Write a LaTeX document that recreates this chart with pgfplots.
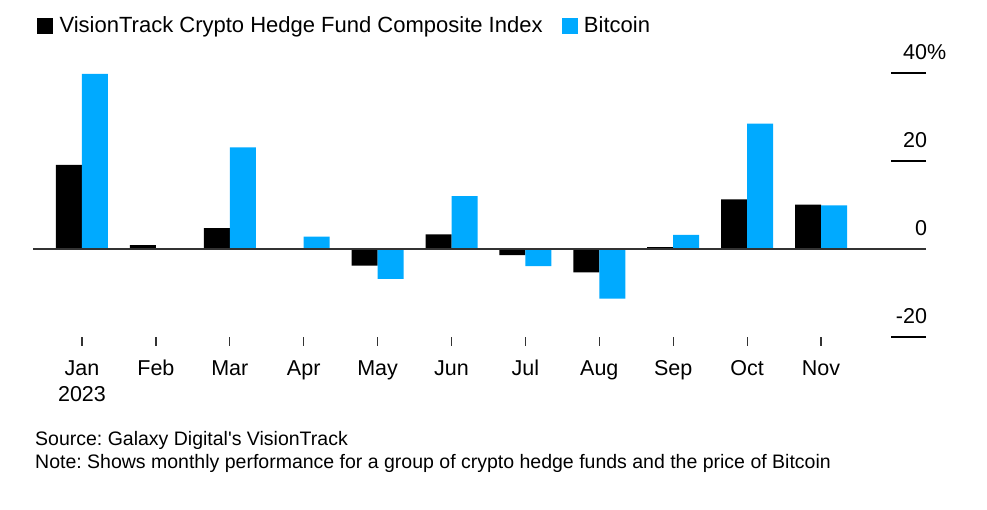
\documentclass[border=0pt]{standalone}
\usepackage{pgfplots}
\pgfplotsset{compat=1.18}
\usepackage{fontspec}
\setmainfont{Liberation Sans}
\frenchspacing
\definecolor{btc}{HTML}{00AAFF}
\definecolor{zl}{HTML}{333333}
\begin{document}
\begin{tikzpicture}[x=1bp,y=1bp]
\path[use as bounding box, fill=white] (0,0) rectangle (987,510);
\begin{axis}[
  at={(33bp,173bp)}, anchor=south west,
  scale only axis, width=858bp, height=264bp,
  xmin=-0.663, xmax=10.947, ymin=-20, ymax=40,
  clip=false,
  axis x line*=bottom, axis y line*=right,
  axis line style={draw=none},
  tick align=outside,
  xtick={0,...,10},
  xticklabels={\strut Jan\\2023,\strut Feb,\strut Mar,\strut Apr,\strut May,\strut Jun,\strut Jul,\strut Aug,\strut Sep,\strut Oct,\strut Nov},
  xticklabel style={align=center, font=\fontsize{21.5bp}{26bp}\selectfont, anchor=north, inner sep=0pt, yshift=-16bp},
  ytick={-20,0,20,40},
  yticklabels={-20,0,20,40\rlap{\%}},
  yticklabel style={anchor=base east, inner sep=0pt, font=\fontsize{21.5bp}{24bp}\selectfont, xshift=32bp, yshift=13.5bp},
  x tick style={black!80, line width=1.2bp, /pgfplots/major tick length=9bp},
  y tick style={black, line width=1.2bp, /pgfplots/major tick length=35bp},
  ybar=0pt, bar width=26bp,
  legend style={at={(axis description cs:0,1)}, anchor=west, xshift=4bp, yshift=47.5bp,
    draw=none, fill=none, inner sep=0pt, font=\fontsize{22bp}{26bp}\selectfont,
    /tikz/every odd column/.append style={column sep=5bp},
    /tikz/every even column/.append style={column sep=17bp}},
  legend columns=-1,
]
\addplot[fill=black, draw=none, bar shift=-13bp, forget plot] coordinates {
(0,19.1) (1,0.9) (2,4.75) (3,0.15) (4,-3.8) (5,3.3) (6,-1.4) (7,-5.3) (8,0.4) (9,11.3) (10,10.1)};
\addplot[fill=btc, draw=none, bar shift=13bp, forget plot] coordinates {
(0,39.8) (1,-0.2) (2,23.1) (3,2.8) (4,-6.8) (5,12.0) (6,-3.9) (7,-11.3) (8,3.2) (9,28.5) (10,9.9)};
\addlegendimage{legend image code/.code={\fill[black] (0bp,-7.5bp) rectangle (15bp,7.5bp);}}
\addlegendentry{VisionTrack Crypto Hedge Fund Composite Index}
\addlegendimage{legend image code/.code={\fill[btc] (0bp,-7.5bp) rectangle (15bp,7.5bp);}}
\addlegendentry{Bitcoin}
\draw[zl, line width=1.5bp] (axis cs:-0.663,0) -- (axis cs:11.42,0);
\end{axis}
\node[anchor=base west, inner sep=0pt, font=\fontsize{19.5bp}{22bp}\selectfont] at (35,64) {Source: Galaxy Digital\textquotesingle s VisionTrack};
\node[anchor=base west, inner sep=0pt, font=\fontsize{19.5bp}{22bp}\selectfont] at (35,41.5) {Note: Shows monthly performance for a group of crypto hedge funds and the price of Bitcoin};
\end{tikzpicture}
\end{document}
